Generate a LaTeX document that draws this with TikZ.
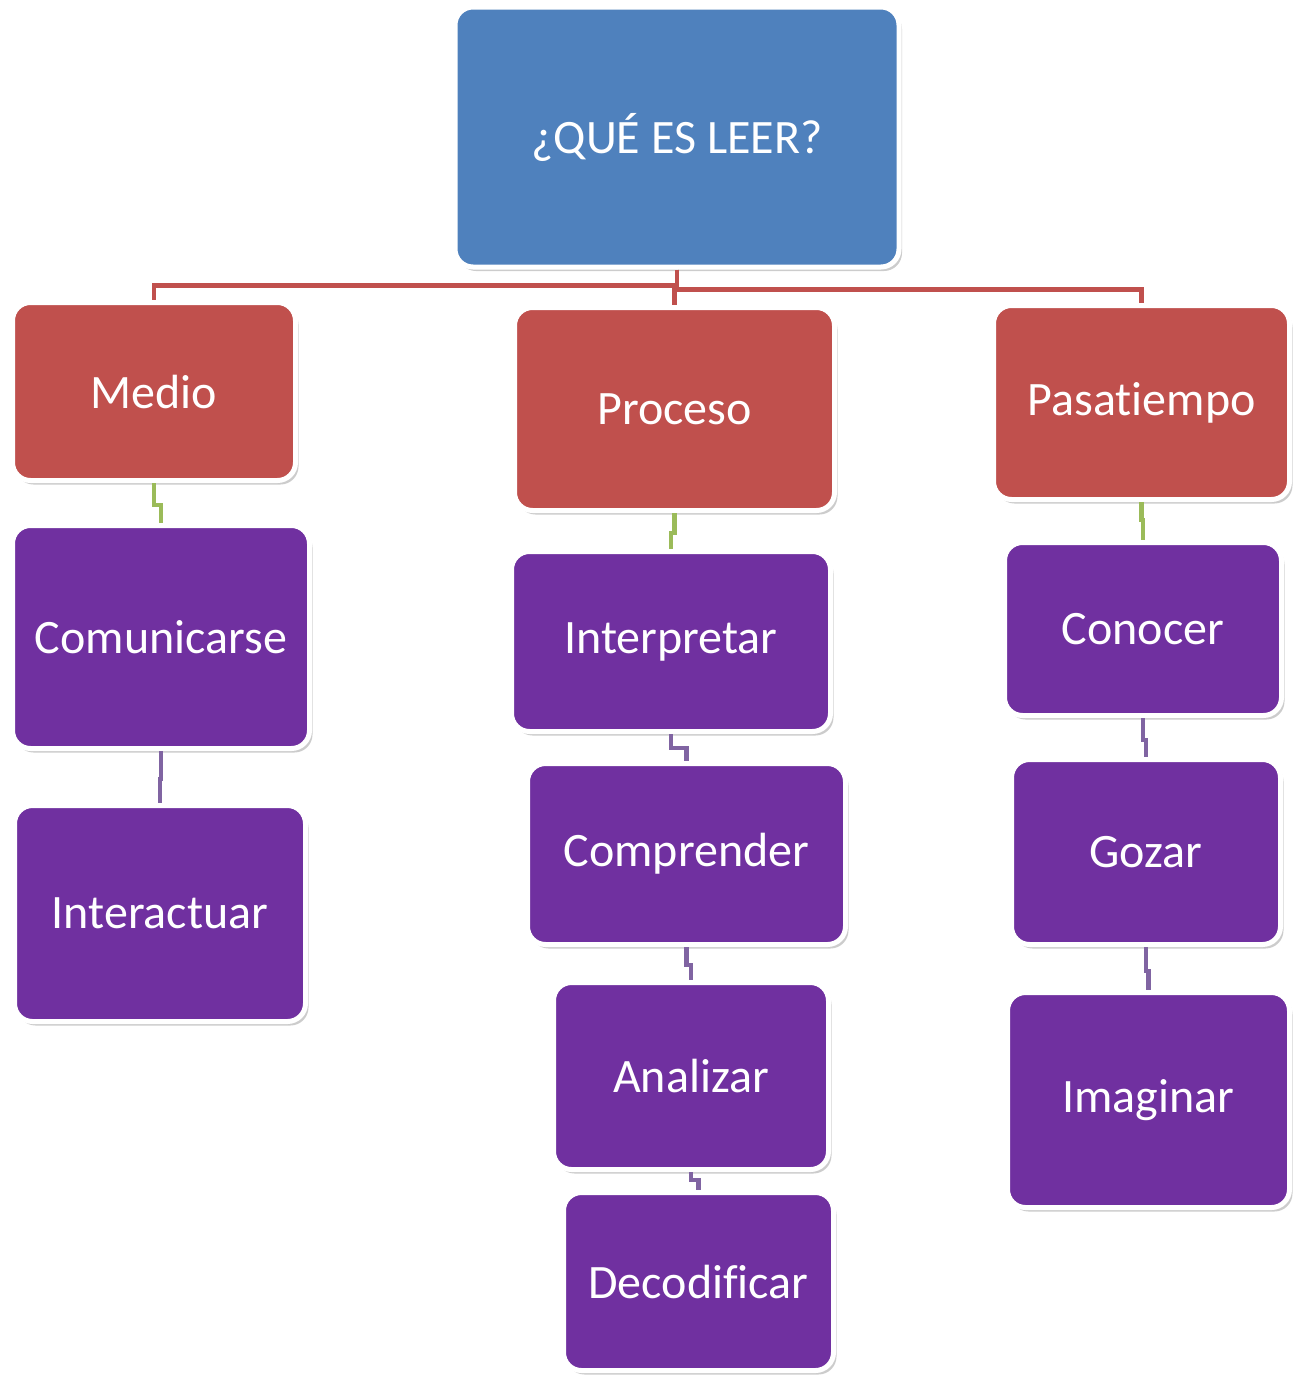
\documentclass[tikz,border=0pt]{standalone}
\usepackage{fontspec}
\setmainfont{Carlito}[Ligatures=NoCommon]
\usetikzlibrary{shadows}

\definecolor{leerblue}{HTML}{4F81BD}
\definecolor{leerred}{HTML}{C0504D}
\definecolor{leerpurple}{HTML}{7030A0}
\definecolor{linkgreen}{HTML}{9BBB59}
\definecolor{linkpurple}{HTML}{8064A2}

\begin{document}
\begin{tikzpicture}[x=1pt,y=-1pt,
  box/.style={rounded corners=18pt, draw=white, line width=5pt, text=white, inner sep=0pt,
    font=\fontsize{48}{56}\selectfont,
    drop shadow={shadow xshift=3pt, shadow yshift=-4pt, fill=black!40}},
  titlebox/.style={box, fill=leerblue},
  mainbox/.style={box, fill=leerred},
  subbox/.style={box, fill=leerpurple},
  redlink/.style={draw=leerred, line width=4.5pt},
  greenlink/.style={draw=linkgreen, line width=4.5pt},
  purplelink/.style={draw=linkpurple, line width=4.5pt}]
\useasboundingbox (0,0) rectangle (1297,1377);

% top
\node[titlebox, minimum width=444pt, minimum height=260pt] (leer) at (677,137) {¿QUÉ ES LEER?};

% second level
\node[mainbox, minimum width=283pt, minimum height=178pt] (medio) at (154,391.5) {Medio};
\node[mainbox, minimum width=320pt, minimum height=203pt] (proceso) at (674.5,409) {Proceso};
\node[mainbox, minimum width=296pt, minimum height=194pt] (pasatiempo) at (1141.5,402.5) {Pasatiempo};

% left column
\node[subbox, minimum width=297pt, minimum height=223pt] (comunicarse) at (161,637) {Comunicarse};
\node[subbox, minimum width=291pt, minimum height=216pt] (interactuar) at (160,913.5) {Interactuar};

% middle column
\node[subbox, minimum width=319pt, minimum height=180pt] (interpretar) at (671,641.5) {Interpretar};
\node[subbox, minimum width=318pt, minimum height=181pt] (comprender) at (686.5,854) {Comprender};
\node[subbox, minimum width=275pt, minimum height=187pt] (analizar) at (691,1076) {Analizar};
\node[subbox, minimum width=270pt, minimum height=178pt] (decodificar) at (698.5,1281.5) {Decodificar};

% right column
\node[subbox, minimum width=277pt, minimum height=173pt] (conocer) at (1143,629) {Conocer};
\node[subbox, minimum width=269pt, minimum height=185pt] (gozar) at (1146,852) {Gozar};
\node[subbox, minimum width=282pt, minimum height=215pt] (imaginar) at (1148.5,1100) {Imaginar};

% connectors
\draw[redlink] (leer.south) -- ++(0,16) -| (medio.north);
\draw[redlink] (leer.south) -- ++(0,16) -| (proceso.north);
\draw[redlink] (leer.south) -- ++(0,20) -| (pasatiempo.north);

\draw[greenlink] (medio.south) -- ++(0,22) -| (comunicarse.north);
\draw[greenlink] (proceso.south) -- ++(0,20) -| (interpretar.north);
\draw[greenlink] (pasatiempo.south) -- ++(0,18) -| (conocer.north);

\draw[purplelink] (comunicarse.south) -- ++(0,28) -| (interactuar.north);
\draw[purplelink] (interpretar.south) -- ++(0,14) -| (comprender.north);
\draw[purplelink] (comprender.south) -- ++(0,18) -| (analizar.north);
\draw[purplelink] (analizar.south) -- ++(0,8) -| (decodificar.north);
\draw[purplelink] (conocer.south) -- ++(0,22) -| (gozar.north);
\draw[purplelink] (gozar.south) -- ++(0,24) -| (imaginar.north);
\end{tikzpicture}
\end{document}
